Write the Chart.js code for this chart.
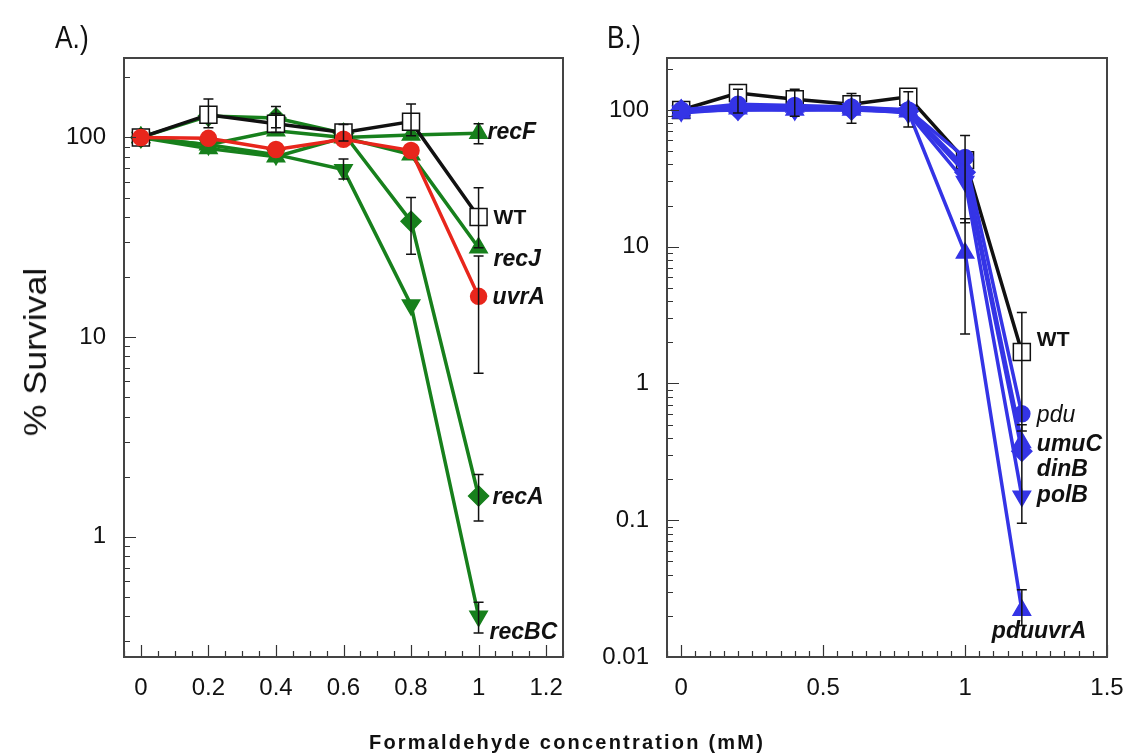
<!DOCTYPE html>
<html>
<head>
<meta charset="utf-8">
<script src="https://cdn.jsdelivr.net/npm/chart.js@4.4.1/dist/chart.umd.min.js"></script>
<style>
  body { margin: 0; background: #fff; width: 1134px; height: 755px; position: relative; overflow: hidden; font-family: "Liberation Sans", Arial, sans-serif; }
  canvas { position: absolute; top: 0; }
  #cA { left: 0; }
  #cB { left: 580px; }
  .txt { position: absolute; color: #111; white-space: nowrap; }
  #panelA { left: 55px; top: 20px; font-size: 31px; transform: scaleX(0.85); transform-origin: left; }
  #panelB { left: 607px; top: 20px; font-size: 31px; transform: scaleX(0.85); transform-origin: left; }
  #ytitle { left: 36px; top: 352px; font-size: 31px; transform: translate(-50%, -50%) rotate(-90deg) scaleX(1.15); }
  #xtitle { left: 567px; top: 742px; font-size: 20px; font-weight: bold; letter-spacing: 2.2px; transform: translate(-50%, -50%); }
</style>
</head>
<body>
<canvas id="cA" width="580" height="755"></canvas>
<canvas id="cB" width="554" height="755"></canvas>
<div class="txt" id="panelA">A.)</div>
<div class="txt" id="panelB">B.)</div>
<div class="txt" id="ytitle">% Survival</div>
<div class="txt" id="xtitle">Formaldehyde concentration (mM)</div>
<script>
// ---- panel A data (% survival) ----
const doseA = [0, 0.2, 0.4, 0.6, 0.8, 1.0];
const wtA   = [100, 130, 117, 106, 120, 40];
const uvrA  = [100, 99, 87, 98, 86, 16];
const recF  = [100, 88, 80, 100, 103, 105];
const recJ  = [100, 92, 108, 100, 82, 28];
const recA  = [100, 128, 125, 105, 38, 1.6];
const recBC = [100, 92, 82, 69, 14.5, 0.4];
// error bars [low, high] per point, null = none
const wtAErr   = [null, [112, 156], [106, 132], [96, 116], [102, 147], [28, 56]];
const uvrAErr  = [null, null, null, null, null, [6.6, 25.5]];
const recFErr  = [null, null, null, null, null, [93, 117]];
const recAErr  = [null, null, [112, 143], null, [26, 50], [1.2, 2.05]];
const recBCErr = [null, null, null, [62, 78], null, [0.33, 0.47]];
const xTicksA = [0, 0.2, 0.4, 0.6, 0.8, 1, 1.2];
const yTicksA = [1, 10, 100];

// ---- panel B data (% survival) ----
const doseB   = [0, 0.2, 0.4, 0.6, 0.8, 1.0, 1.2];
const wtB     = [100, 133, 120, 110, 125, 43, 1.7];
const pdu     = [100, 110, 108, 105, 100, 45, 0.6];
const umuC    = [100, 105, 105, 104, 100, 38, 0.37];
const dinB    = [100, 100, 102, 100, 98, 35, 0.32];
const polB    = [98, 100, 100, 102, 95, 30, 0.15];
const pduuvrA = [95, 102, 100, 100, 97, 9, 0.022];
const wtBErr      = [null, [95, 142], [90, 142], [80, 132], [75, 136], [15, 65], [0.45, 3.3]];
const polBErr     = [null, null, null, null, null, null, [0.095, 0.5]];
const pduuvrAErr  = [null, null, null, null, null, [2.3, 16], [0.017, 0.031]];
const xTicksB = [0, 0.5, 1, 1.5];
const yTicksB = [0.01, 0.1, 1, 10, 100];

const GREEN = '#17801c', RED = '#e8261c', BLUE = '#3434e6', BLACK = '#111';
const FONT = '"Liberation Sans", Arial, sans-serif';

function pts(xs, ys) { return xs.map((x, i) => ({ x: x, y: ys[i] })); }

function series(label, xs, ys, color, style, opts) {
  opts = opts || {};
  return Object.assign({
    label: label,
    data: pts(xs, ys),
    borderColor: color,
    backgroundColor: color,
    pointBackgroundColor: opts.open ? '#fff' : color,
    pointBorderColor: color,
    pointStyle: style,
    pointRadius: 10,
    pointBorderWidth: 1.5,
    borderWidth: 3.5,
    tension: 0,
  }, opts);
}

// error bars, inward ticks, frame and end labels
const decor = {
  id: 'decor',
  afterDatasetsDraw(chart) {
    const ctx = chart.ctx, xs = chart.scales.x, ys = chart.scales.y;
    ctx.save();
    ctx.strokeStyle = BLACK;
    ctx.lineWidth = 1.5;
    chart.data.datasets.forEach(ds => {
      if (!ds.err) return;
      ds.data.forEach((p, i) => {
        const e = ds.err[i];
        if (!e) return;
        const px = xs.getPixelForValue(p.x);
        const y1 = ys.getPixelForValue(e[0]), y2 = ys.getPixelForValue(e[1]);
        ctx.beginPath();
        ctx.moveTo(px, y1); ctx.lineTo(px, y2);
        ctx.moveTo(px - 5, y1); ctx.lineTo(px + 5, y1);
        ctx.moveTo(px - 5, y2); ctx.lineTo(px + 5, y2);
        ctx.stroke();
      });
    });
    ctx.restore();
  },
  afterDraw(chart) {
    const ctx = chart.ctx, a = chart.chartArea, xs = chart.scales.x, ys = chart.scales.y;
    const o = chart.options.plugins.decor;
    ctx.save();
    ctx.strokeStyle = '#333';
    ctx.lineWidth = 1.2;
    ctx.beginPath();
    // y ticks (log): majors at decades, minors in between
    const d0 = Math.floor(Math.log10(ys.min)), d1 = Math.ceil(Math.log10(ys.max));
    for (let d = d0; d <= d1; d++) {
      for (let m = 1; m <= 9; m++) {
        const v = m * Math.pow(10, d);
        if (v < ys.min || v > ys.max) continue;
        const py = Math.round(ys.getPixelForValue(v)) + 0.5;
        const len = m === 1 ? 12 : 6;
        ctx.moveTo(a.left, py); ctx.lineTo(a.left + len, py);
      }
    }
    // x ticks: majors from tick list, minors every minorStep
    const n = Math.round((xs.max - xs.min) / o.minorStep);
    for (let k = 0; k <= n; k++) {
      const v = xs.min + k * o.minorStep;
      const isMajor = o.xMajor.some(t => Math.abs(t - v) < 1e-6);
      const px = Math.round(xs.getPixelForValue(v)) + 0.5;
      ctx.moveTo(px, a.bottom); ctx.lineTo(px, a.bottom - (isMajor ? 12 : 6));
    }
    ctx.stroke();
    // frame
    ctx.strokeStyle = '#444';
    ctx.lineWidth = 2;
    ctx.strokeRect(a.left, a.top, a.right - a.left, a.bottom - a.top);
    // end labels
    ctx.fillStyle = BLACK;
    ctx.textBaseline = 'middle';
    o.labels.forEach(l => {
      const ds = chart.data.datasets.find(d => d.label === l.name);
      const p = ds.data[ds.data.length - 1];
      const px = xs.getPixelForValue(p.x), py = ys.getPixelForValue(p.y);
      const size = l.italic === false ? 21 : 23;
      ctx.font = (l.italic === false ? '' : 'italic ') + (l.bold === false ? '' : 'bold ') + size + 'px ' + FONT;
      ctx.fillText(l.name, px + l.dx, py + l.dy);
    });
    ctx.restore();
  }
};

function makeOptions(cfg) {
  return {
    animation: false,
    responsive: false,
    layout: { padding: { left: 0, top: 58, right: cfg.padRight, bottom: 0 } },
    plugins: {
      legend: { display: false },
      tooltip: { enabled: false },
      decor: { minorStep: 0.05, xMajor: cfg.xTicks, labels: cfg.labels },
    },
    scales: {
      x: {
        type: 'linear',
        min: cfg.xMin, max: cfg.xMax,
        afterBuildTicks: s => { s.ticks = cfg.xTicks.map(v => ({ value: v })); },
        afterFit: s => { s.height = 98; s.paddingLeft = 0; s.paddingRight = 0; },
        grid: { display: false },
        border: { display: false },
        ticks: {
          color: '#111', padding: 9,
          font: { family: FONT, size: 24 },
          callback: v => String(+v.toFixed(2)),
        },
      },
      y: {
        type: 'logarithmic',
        min: cfg.yMin, max: cfg.yMax,
        afterBuildTicks: s => { s.ticks = cfg.yTicks.map(v => ({ value: v })); },
        afterFit: s => { s.width = cfg.yWidth; s.paddingTop = 0; s.paddingBottom = 0; },
        grid: { display: false },
        border: { display: false },
        ticks: {
          color: '#111', padding: 10,
          font: { family: FONT, size: 24 },
          callback: v => String(v),
        },
      },
    },
  };
}

new Chart(document.getElementById('cA'), {
  type: 'line',
  data: {
    datasets: [
      series('WT', doseA, wtA, BLACK, 'rect', { open: true, pointRadius: 12, pointBorderColor: BLACK, err: wtAErr, order: 1 }),
      series('recF', doseA, recF, GREEN, 'triangle', { order: 2, err: recFErr }),
      series('recJ', doseA, recJ, GREEN, 'triangle', { order: 2 }),
      series('uvrA', doseA, uvrA, RED, 'circle', { pointRadius: 8, err: uvrAErr, order: 0 }),
      series('recA', doseA, recA, GREEN, 'rectRot', { err: recAErr, order: 2 }),
      series('recBC', doseA, recBC, GREEN, 'triangle', { rotation: 180, err: recBCErr, order: 2 }),
    ],
  },
  options: makeOptions({
    xMin: -0.05, xMax: 1.25, yMin: 0.25, yMax: 250, xTicks: xTicksA, yTicks: yTicksA,
    yWidth: 124, padRight: 17,
    labels: [
      { name: 'recF', dx: 9, dy: -1 },
      { name: 'WT', dx: 15, dy: 1, italic: false },
      { name: 'recJ', dx: 15, dy: 12 },
      { name: 'uvrA', dx: 14, dy: 1 },
      { name: 'recA', dx: 14, dy: 2 },
      { name: 'recBC', dx: 11, dy: 16 },
    ],
  }),
  plugins: [decor],
});

new Chart(document.getElementById('cB'), {
  type: 'line',
  data: {
    datasets: [
      series('WT', doseB, wtB, BLACK, 'rect', { open: true, pointRadius: 12, pointBorderColor: BLACK, err: wtBErr, order: 1 }),
      series('pdu', doseB, pdu, BLUE, 'circle', { pointRadius: 8, order: 0 }),
      series('umuC', doseB, umuC, BLUE, 'triangle', { order: 0 }),
      series('dinB', doseB, dinB, BLUE, 'rectRot', { order: 0 }),
      series('polB', doseB, polB, BLUE, 'triangle', { rotation: 180, err: polBErr, order: 0 }),
      series('pduuvrA', doseB, pduuvrA, BLUE, 'triangle', { err: pduuvrAErr, order: 0 }),
    ],
  },
  options: makeOptions({
    xMin: -0.05, xMax: 1.5, yMin: 0.01, yMax: 240, xTicks: xTicksB, yTicks: yTicksB,
    yWidth: 87, padRight: 27,
    labels: [
      { name: 'WT', dx: 15, dy: -12, italic: false },
      { name: 'pdu', dx: 15, dy: 2, bold: false },
      { name: 'umuC', dx: 15, dy: 2 },
      { name: 'dinB', dx: 15, dy: 18 },
      { name: 'polB', dx: 15, dy: -1 },
      { name: 'pduuvrA', dx: -30, dy: 21 },
    ],
  }),
  plugins: [decor],
});
</script>
</body>
</html>
